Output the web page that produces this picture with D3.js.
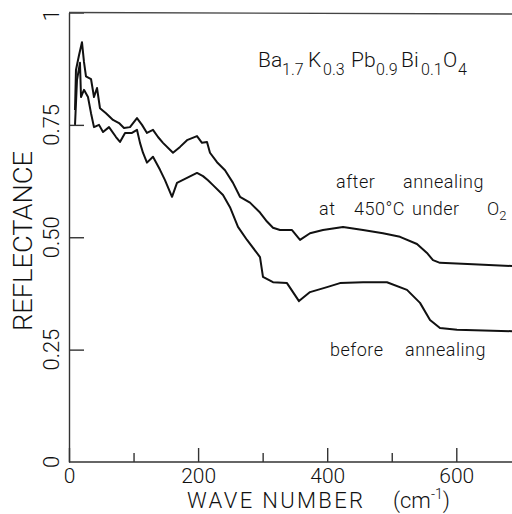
<!DOCTYPE html>
<html lang="en">
<head>
  <meta charset="UTF-8">
  <title>Reflectance of Ba1.7K0.3Pb0.9Bi0.1O4</title>
  <script src="https://d3js.org/d3.v7.min.js"></script>
  <style>
    body { margin: 0; background: #fff; }
    text { font-family: Roboto, "Liberation Sans", Arial, sans-serif; font-weight: 300; fill: #111; }
    .curve { fill: none; stroke: #111; stroke-width: 2; stroke-linejoin: round; }
    .axis path, .axis line { stroke: #333; stroke-width: 1.4; }
  </style>
</head>
<body>
<script>
  // wave number (cm-1) and reflectance
  const afterAnnealing = [
    [9.3, 0.783], [10.8, 0.872], [15.5, 0.905], [20.1, 0.934], [23.2, 0.890],
    [26.3, 0.858], [34.1, 0.852], [38.7, 0.812], [43.4, 0.832], [48.0, 0.787],
    [57.3, 0.776], [68.2, 0.761], [77.5, 0.754], [85.2, 0.743], [94.5, 0.745],
    [105.3, 0.765], [113.1, 0.750], [120.8, 0.732], [130.1, 0.739], [137.9, 0.723],
    [145.6, 0.710], [161.1, 0.688], [172.0, 0.701], [182.8, 0.716], [198.3, 0.725],
    [206.0, 0.710], [213.8, 0.712], [218.4, 0.688], [229.3, 0.667], [241.7, 0.649],
    [254.1, 0.621], [264.9, 0.590], [280.4, 0.577], [295.9, 0.555], [306.7, 0.535],
    [316.0, 0.521], [326.9, 0.516], [345.5, 0.516], [357.9, 0.494], [373.4, 0.509],
    [393.5, 0.516], [424.5, 0.523], [455.5, 0.516], [486.4, 0.509], [512.8, 0.501],
    [539.1, 0.485], [554.6, 0.465], [563.9, 0.449], [574.7, 0.443], [625.9, 0.440],
    [686.3, 0.436]
  ];

  const beforeAnnealing = [
    [9.3, 0.750], [12.4, 0.850], [17.0, 0.888], [18.6, 0.812], [23.2, 0.828],
    [29.4, 0.812], [34.1, 0.776], [38.7, 0.745], [46.5, 0.750], [52.7, 0.734],
    [62.0, 0.745], [72.8, 0.723], [79.0, 0.712], [86.8, 0.732], [97.6, 0.732],
    [105.3, 0.739], [110.0, 0.710], [114.6, 0.688], [120.8, 0.666], [130.1, 0.679],
    [141.0, 0.650], [148.7, 0.627], [159.6, 0.590], [167.3, 0.621], [182.8, 0.632],
    [198.3, 0.643], [207.6, 0.636], [215.3, 0.627], [223.1, 0.616], [238.6, 0.594],
    [249.4, 0.567], [261.8, 0.523], [275.8, 0.494], [295.9, 0.456], [300.5, 0.412],
    [316.0, 0.400], [337.7, 0.398], [356.3, 0.358], [373.4, 0.378], [399.7, 0.389],
    [419.8, 0.398], [455.5, 0.400], [492.6, 0.400], [523.6, 0.383], [543.8, 0.354],
    [559.3, 0.316], [574.7, 0.298], [601.1, 0.294], [686.3, 0.291]
  ];

  const xMajorTicks = [0, 200, 400, 600];
  const xMinorTicks = [100, 300, 500];
  const yTicks = [0, 0.25, 0.5, 0.75, 1];
  const yTickLabels = ["0", "0.25", "0.50", "0.75", "1"];

  const width = 512, height = 514;
  const svg = d3.select("body").append("svg")
    .attr("width", width)
    .attr("height", height);

  svg.append("rect").attr("width", width).attr("height", height).attr("fill", "#fff");

  const x = d3.scaleLinear().domain([0, 686.3]).range([69, 512]);
  const y = d3.scaleLinear().domain([0, 1]).range([462, 12.5]);

  // x axis, ticks pointing up into the plot
  svg.append("g")
    .attr("class", "axis")
    .attr("transform", `translate(0,${y(0)})`)
    .call(d3.axisBottom(x).tickValues(xMajorTicks).tickSize(-14).tickPadding(6).tickSizeOuter(0))
    .call(g => g.selectAll("text").attr("font-size", 21).attr("font-family", null))
    .call(g => g.select(".domain").attr("d", `M${x(0)},0H${width}`));

  svg.append("g")
    .attr("class", "axis")
    .attr("transform", `translate(0,${y(0)})`)
    .call(d3.axisBottom(x).tickValues(xMinorTicks).tickSize(-9).tickFormat(""))
    .call(g => g.select(".domain").remove());

  // y axis, ticks pointing right
  svg.append("g")
    .attr("class", "axis")
    .attr("transform", `translate(${x(0)},0)`)
    .call(d3.axisLeft(y).tickValues(yTicks.slice(1)).tickSize(-15).tickFormat("").tickSizeOuter(0));

  // top frame
  svg.append("line")
    .attr("x1", x(0)).attr("x2", width)
    .attr("y1", y(1)).attr("y2", y(1) + 1.5)
    .attr("stroke", "#444").attr("stroke-width", 1.4);

  // rotated y tick labels
  svg.append("g").selectAll("text")
    .data(yTicks)
    .join("text")
    .attr("transform", d => `translate(59,${y(d) + (d === 1 ? 3 : 0)}) rotate(-90)`)
    .attr("text-anchor", "middle")
    .attr("font-size", 22)
    .text((d, i) => yTickLabels[i]);

  svg.append("text")
    .attr("transform", "translate(32,241) rotate(-90)")
    .attr("text-anchor", "middle")
    .attr("font-size", 26)
    .attr("textLength", 180)
    .attr("lengthAdjust", "spacingAndGlyphs")
    .text("REFLECTANCE");

  const xLabel = svg.append("text")
    .attr("x", 187).attr("y", 508)
    .attr("font-size", 22);
  xLabel.append("tspan").attr("textLength", 176).attr("lengthAdjust", "spacing").text("WAVE NUMBER");
  xLabel.append("tspan").attr("x", 393).text("(cm");
  xLabel.append("tspan").attr("dy", -9).attr("font-size", 14).text("-1");
  xLabel.append("tspan").attr("dy", 9).text(")");

  // curves
  const line = d3.line().x(d => x(d[0])).y(d => y(d[1]));
  svg.append("path").datum(afterAnnealing).attr("class", "curve").attr("d", line);
  svg.append("path").datum(beforeAnnealing).attr("class", "curve").attr("d", line);

  // formula: [text, x start, is subscript]
  const formula = [
    ["Ba", 258, false], ["1.7", 282, true], ["K", 308, false], ["0.3", 323, true],
    ["Pb", 351, false], ["0.9", 376, true], ["Bi", 401, false], ["0.1", 421, true],
    ["O", 443, false], ["4", 458, true]
  ];
  svg.append("g").selectAll("text")
    .data(formula)
    .join("text")
    .attr("x", d => d[1])
    .attr("y", d => d[2] ? 75 : 67)
    .attr("font-size", d => d[2] ? 16 : 21)
    .text(d => d[0]);

  // annotations, one word each: [text, x, baseline]
  const words = [
    ["after", 336, 188], ["annealing", 403, 188],
    ["at", 319, 215], ["450°C", 354, 215], ["under", 412, 215],
    ["before", 330, 356], ["annealing", 405, 356]
  ];
  svg.append("g").selectAll("text")
    .data(words)
    .join("text")
    .attr("x", d => d[1]).attr("y", d => d[2])
    .attr("font-size", 18)
    .attr("letter-spacing", 0.5)
    .text(d => d[0]);

  const o2 = svg.append("text").attr("x", 487).attr("y", 215).attr("font-size", 18);
  o2.append("tspan").text("O");
  o2.append("tspan").attr("dy", 5).attr("font-size", 13).text("2");
</script>
</body>
</html>
